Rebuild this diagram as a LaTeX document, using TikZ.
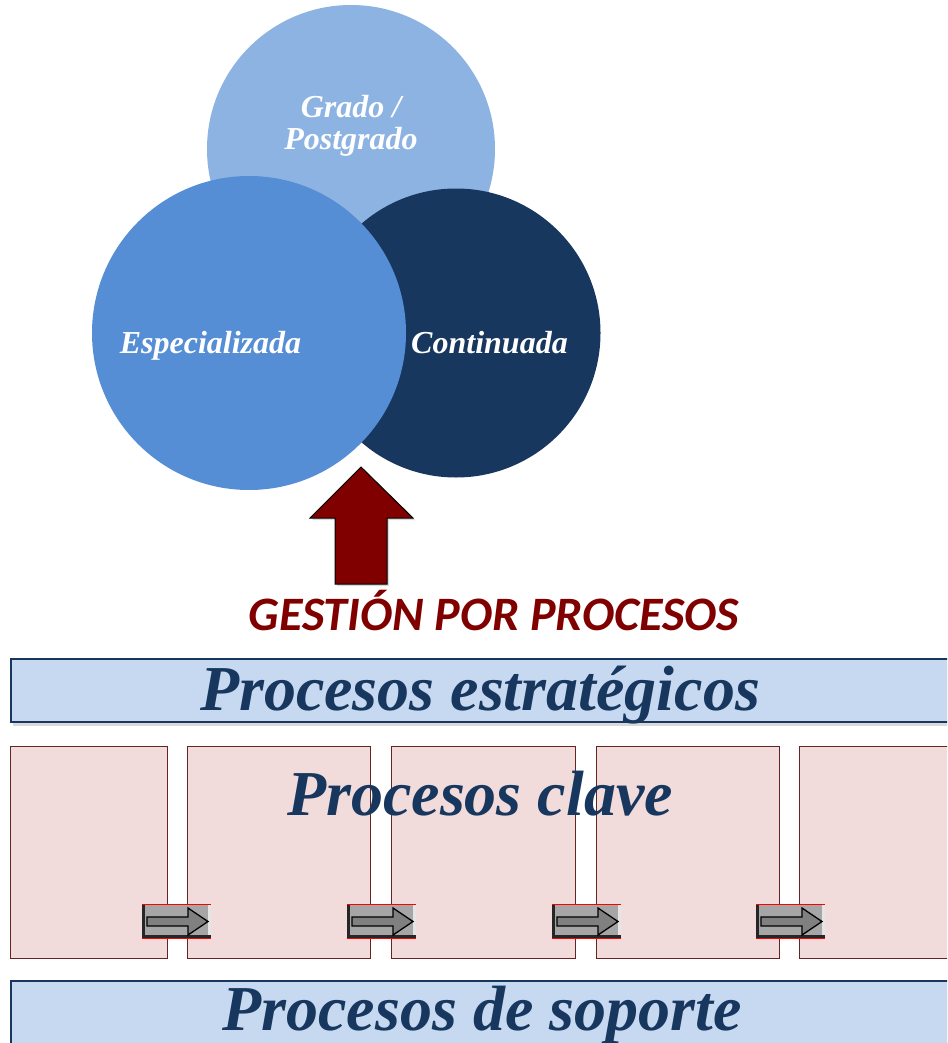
\documentclass[tikz,border=0pt]{standalone}
\usepackage{fontspec}
\setmainfont{Liberation Serif}
\newfontfamily\gestfont{Carlito}
\usetikzlibrary{shadows}

\definecolor{gradoblue}{HTML}{8DB3E2}
\definecolor{espblue}{HTML}{558ED5}
\definecolor{navy}{HTML}{17375E}
\definecolor{bannerblue}{HTML}{C6D9F1}
\definecolor{keypink}{HTML}{F2DCDB}
\definecolor{keyborder}{HTML}{632523}
\definecolor{arrowred}{HTML}{800000}
\definecolor{btngray}{HTML}{A6A6A6}

\tikzset{
  ring/.style={circle, inner sep=0pt},
  ringtext/.style={text=white, font=\fontsize{32}{32}\selectfont\bfseries\itshape, align=center},
  banner/.style={draw=navy, line width=1.5pt, fill=bannerblue,
    drop shadow={opacity=0.3, shadow xshift=2pt, shadow yshift=-4pt}},
  keybox/.style={draw=keyborder, line width=0.8pt, fill=keypink},
  bigtext/.style={text=navy, font=\fontsize{64}{66}\selectfont\bfseries\itshape, anchor=base},
}

\begin{document}
\begin{tikzpicture}[x=1pt, y=-1pt]
\useasboundingbox (0,0) rectangle (947,1043);
\clip (0,0) rectangle (947,1043);

% three circles
\node[ring, fill=gradoblue, minimum size=288pt] (grado) at (351,149) {};
\node[ring, fill=navy, minimum size=289pt] (cont) at (456,333) {};
\node[ring, fill=espblue, minimum size=314pt] (espec) at (249,333) {};

\node[ringtext] (gradoT) at (351,125.5) {Grado /\\Postgrado};
\node[ringtext, anchor=base] (especT) at (210.5,353) {Especializada};
\node[ringtext, anchor=base] (contT) at (489.5,353) {Continuada};

% big arrow
\draw[fill=arrowred, line width=1pt,
  drop shadow={opacity=0.3, shadow xshift=2pt, shadow yshift=-2pt}]
  (335,584) -- (335,518) -- (310,518) -- (361,467) -- (413,518)
  -- (387,518) -- (387,584) -- cycle;

\node[text=arrowred, font=\gestfont\fontsize{48}{50}\selectfont\bfseries\itshape, anchor=base]
  (gestion) at (494,630) {GESTIÓN POR PROCESOS};

% strategic
\node[banner, minimum width=960pt, minimum height=63pt, anchor=north west] (estr) at (10,658) {};
\node[bigtext] (estrT) at (480,710) {Procesos estratégicos};

% key processes
\foreach \l/\r in {10/167, 187/370, 391/575, 596/779, 799/960}
  \draw[keybox] (\l,746) rectangle (\r,958);
\node[bigtext] (claveT) at (480,815) {Procesos clave};

\foreach \bx in {142,347,552,756} {
  \begin{scope}[shift={(\bx,905)}]
    \fill[btngray] (0,0) rectangle (69,33);
    \fill[black!85] (0,0) rectangle (3,33);
    \fill[black!85] (0,30) rectangle (69,33);
    \fill[black!10] (66,0) rectangle (69,30);
    \draw[red, line width=0.8pt] (0,-0.5) -- (69,-0.5);
    \draw[red, line width=0.8pt] (0,33.5) -- (69,33.5);
    \draw[fill=black!50, line width=1.3pt]
      (5,12) -- (46,12) -- (46,3) -- (66,16.5) -- (46,30) -- (46,21) -- (5,21) -- cycle;
  \end{scope}
}

% support
\node[banner, minimum width=960pt, minimum height=80pt, anchor=north west] (sop) at (10,980) {};
\node[bigtext] (sopT) at (482,1030) {Procesos de soporte};

\end{tikzpicture}
\end{document}
